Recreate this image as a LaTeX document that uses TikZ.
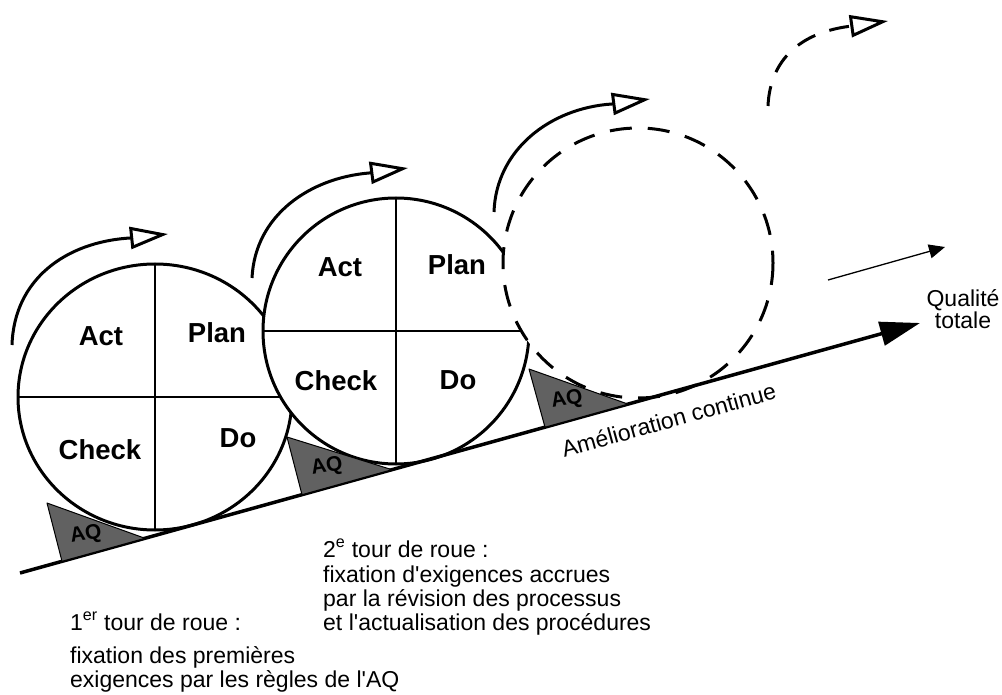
\documentclass[tikz,border=0pt]{standalone}
\usepackage{fontspec}
\setmainfont{Liberation Sans}[Ligatures=TeXOff]
\usetikzlibrary{arrows.meta}
\begin{document}
\begin{tikzpicture}[x=1pt,y=-1pt,
  wheel/.style={draw=black, line width=3pt, fill=white},
  dashwheel/.style={draw=black, line width=3pt, fill=white, dash pattern=on 22pt off 16pt},
  divider/.style={line width=2pt},
  lbl/.style={font=\bfseries\fontsize{27.5}{30}\selectfont, inner sep=0pt},
  txt/.style={font=\fontsize{23}{25}\selectfont, anchor=base west, inner sep=0pt},
  rotarrow/.style={line width=3pt, -{Triangle[open, length=38pt, width=22pt]}},
  wedgebox/.style={fill=black!62, draw=black, line width=1pt, line join=round},
  aq/.style={font=\bfseries\fontsize{21}{22}\selectfont, text=black, inner sep=0pt},
  mainline/.style={line width=3.5pt, -{Triangle[length=40pt, width=24pt]}},
  thinarrow/.style={line width=1.3pt, -{Triangle[length=16pt, width=14pt]}}
]
\useasboundingbox (0,0) rectangle (1002,695);

% wheel 1
\draw[wheel] (155,397) ellipse [x radius=137, y radius=133];
\draw[divider] (155,264) -- (155,530);
\draw[divider] (18,397) -- (292,397);
% wheel 2
\draw[wheel] (396,331) circle [radius=133];
\draw[divider] (396,198) -- (396,464);
\draw[divider] (263,331) -- (529,331);
% dashed wheel
\draw[dashwheel] (638,263) circle [radius=135];

% labels wheel 1
\node[lbl] (act1) at (101,336) {Act};
\node[lbl] (plan1) at (217,333) {Plan};
\node[lbl] (check1) at (100,450) {Check};
\node[lbl] (do1) at (238,438) {Do};
% labels wheel 2
\node[lbl] (act2) at (340,267) {Act};
\node[lbl] (plan2) at (457,265) {Plan};
\node[lbl] (check2) at (336,381) {Check};
\node[lbl] (do2) at (458,380) {Do};

% main slope
\coordinate (s0) at (20,573);
\coordinate (s1) at (920,323);
\draw[mainline] (s0) -- (s1);

% AQ wedges
\draw[wedgebox] (47,503) -- (62,561.3) -- (145,538.3) -- cycle;
\node[aq, rotate=10] (aq1) at (86,535) {AQ};
\draw[wedgebox] (287,437) -- (302,494.7) -- (392,469.7) -- cycle;
\node[aq, rotate=10] (aq2) at (327,467) {AQ};
\draw[wedgebox] (529,369) -- (545,427.2) -- (628,404.1) -- cycle;
\node[aq, rotate=10] (aq3) at (567,400) {AQ};

% rotation arrows
\coordinate (r1a) at (12,345);
\coordinate (r1b) at (130,238);
\coordinate (r1c) at (168,234);
\draw[rotarrow] (r1a) .. controls (14,280) and (65,242) .. (r1b) -- (r1c);
\coordinate (r2a) at (252,278);
\coordinate (r2b) at (369,173);
\coordinate (r2c) at (408,168);
\draw[rotarrow] (r2a) .. controls (255,215) and (310,178) .. (r2b) -- (r2c);
\coordinate (r3a) at (494,212);
\coordinate (r3b) at (612,104);
\coordinate (r3c) at (650,99);
\draw[rotarrow] (r3a) .. controls (496,150) and (550,108) .. (r3b) -- (r3c);
\coordinate (r4a) at (768,106);
\coordinate (r4b) at (852,26);
\coordinate (r4c) at (888,21);
\draw[rotarrow, dash pattern=on 20pt off 15pt] (r4a) .. controls (770,60) and (800,32) .. (r4b) -- (r4c);

% thin arrow
\coordinate (t0) at (828,280);
\coordinate (t1) at (945,247);
\draw[thinarrow] (t0) -- (t1);

% texts
\node[font=\fontsize{23}{25}\selectfont, anchor=base, inner sep=0pt] (qual) at (963,307) {Qualité};
\node[font=\fontsize{23}{25}\selectfont, anchor=base, inner sep=0pt] (tot) at (963,328) {totale};
\node[font=\fontsize{23}{25}\selectfont, anchor=base, inner sep=0pt, rotate=15.5] (amel) at (671,428) {Amélioration continue};

\node[txt] (t2h) at (323,557) {2\textsuperscript{e} tour de roue :};
\node[txt] (t2a) at (323,582) {fixation d'exigences accrues};
\node[txt] (t2b) at (323,606) {par la révision des processus};
\node[txt] (t2c) at (323,630) {et l'actualisation des procédures};
\node[txt] (t1h) at (70,630) {1\textsuperscript{er} tour de roue :};
\node[txt] (t1a) at (70,663) {fixation des premières};
\node[txt] (t1b) at (70,687) {exigences par les règles de l'AQ};
\end{tikzpicture}
\end{document}
